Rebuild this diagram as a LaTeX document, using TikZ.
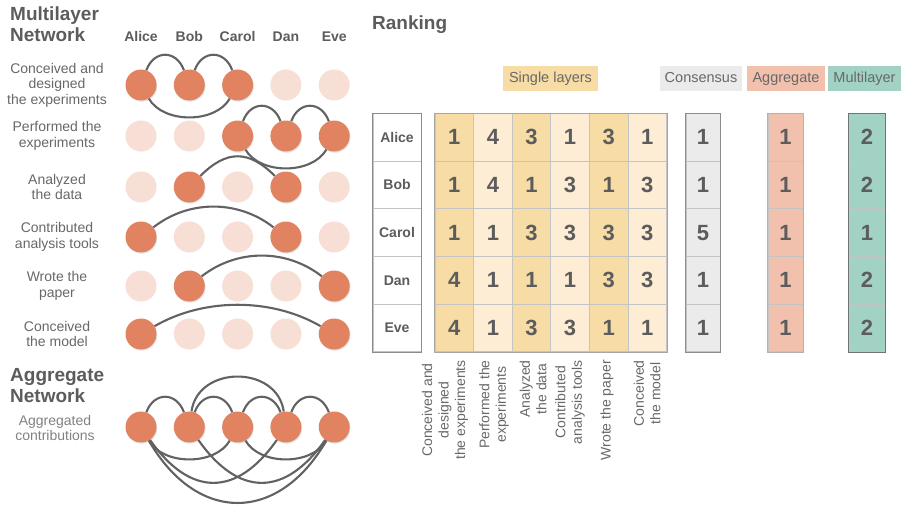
\documentclass[tikz,border=0pt]{standalone}
\usepackage{fontspec}
\setmainfont{Liberation Sans}
\usetikzlibrary{shadows}

\definecolor{actc}{RGB}{225,131,96}
\definecolor{inac}{RGB}{248,223,213}
\definecolor{edgec}{RGB}{98,98,98}
\definecolor{txt}{RGB}{92,92,92}
\definecolor{lbl}{RGB}{104,104,104}
\definecolor{lbllight}{RGB}{130,130,130}
\definecolor{sgl}{RGB}{247,220,166}
\definecolor{sgllight}{RGB}{252,237,212}
\definecolor{cons}{RGB}{235,235,235}
\definecolor{aggc}{RGB}{241,193,174}
\definecolor{mulc}{RGB}{161,210,195}
\definecolor{gridc}{RGB}{196,196,196}

\begin{document}
\begin{tikzpicture}[x=1pt,y=1pt,
  act/.style={circle,fill=actc,minimum size=31pt,inner sep=0pt,
    drop shadow={shadow xshift=0.8pt,shadow yshift=-1.2pt,opacity=0.2}},
  ina/.style={circle,fill=inac,minimum size=31pt,inner sep=0pt},
  edge/.style={draw=edgec,line width=2.1pt},
  heading/.style={anchor=north west,text=txt,inner sep=0pt,align=left,
    font=\fontsize{19}{21}\selectfont\bfseries},
  person/.style={anchor=base,text=txt,inner sep=0pt,
    font=\fontsize{14}{16}\selectfont\bfseries},
  rowlabel/.style={text=lbl,inner sep=0pt,align=center,
    font=\fontsize{14}{15.5}\selectfont},
  collabel/.style={text=lbl,inner sep=0pt,align=center,rotate=90,anchor=east,
    font=\fontsize{14}{16.5}\selectfont},
  legend/.style={text=lbl,inner xsep=0pt,inner ysep=0pt,minimum height=25pt,
    text height=10.5pt,text depth=3pt,
    font=\fontsize{14.5}{16}\selectfont},
  cell/.style={draw=gridc,line width=0.9pt,minimum width=38.6pt,
    minimum height=47.65pt,inner sep=0pt,text=txt,
    font=\fontsize{22}{24}\selectfont\bfseries},
  namecell/.style={draw=gridc,line width=0.9pt,minimum width=48pt,
    minimum height=47.65pt,inner sep=0pt,text=txt,
    font=\fontsize{14}{16}\selectfont\bfseries},
]
\useasboundingbox[fill=white] (0,0) rectangle (901,-509);

% ---------- headings ----------
\node[heading] (mlt) at (10,-7) {Multilayer\\Network};
\node[heading] (agt) at (10,-368) {Aggregate\\Network};
\node[heading] (rkt) at (372,-15.3) {Ranking};

% ---------- people ----------
\foreach \nm [count=\i] in {Alice,Bob,Carol,Dan,Eve}
  \node[person] (p\i) at ({141+48.3*(\i-1)},-41) {\nm};

% ---------- layer labels ----------
\node[rowlabel] (l1) at (57,-85) {Conceived and\\designed\\the experiments};
\node[rowlabel] (l2) at (57,-136) {Performed the\\experiments};
\node[rowlabel] (l3) at (57,-187) {Analyzed\\the data};
\node[rowlabel] (l4) at (57,-237) {Contributed\\analysis tools};
\node[rowlabel] (l5) at (57,-286) {Wrote the\\paper};
\node[rowlabel] (l6) at (57,-334) {Conceived\\the model};
\node[rowlabel,text=lbllight] (l7) at (55,-428) {Aggregated\\contributions};

% ---------- multilayer nodes ----------
\foreach \rw/\yy/\pa/\pb/\pc/\pd/\pe in {
    1/85/1/1/1/0/0, 2/136/0/0/1/1/1, 3/187/0/1/0/1/0,
    4/237/1/0/0/1/0, 5/286/0/1/0/0/1, 6/334/1/0/0/0/1}{
  \foreach \col/\on in {1/\pa,2/\pb,3/\pc,4/\pd,5/\pe}{
    \ifnum\on=1
      \node[act] (n\rw\col) at ({141+48.3*(\col-1)},-\yy) {};
    \else
      \node[ina] (n\rw\col) at ({141+48.3*(\col-1)},-\yy) {};
    \fi
  }
}

% layer 1
\draw[edge] (n11.70) .. controls +(70:22) and +(110:22) .. (n12.110);
\draw[edge] (n12.70) .. controls +(70:22) and +(110:22) .. (n13.110);
\draw[edge] (n11.-60) .. controls +(-60:29) and +(-120:29) .. (n13.-120);
% layer 2
\draw[edge] (n23.70) .. controls +(70:22) and +(110:22) .. (n24.110);
\draw[edge] (n24.70) .. controls +(70:22) and +(110:22) .. (n25.110);
\draw[edge] (n23.-60) .. controls +(-60:29) and +(-120:29) .. (n25.-120);
% layer 3
\draw[edge] (n32.45) .. controls +(45:37) and +(135:37) .. (n34.135);
% layer 4
\draw[edge] (n41.38) .. controls +(38:45) and +(142:45) .. (n44.142);
% layer 5
\draw[edge] (n52.38) .. controls +(38:45) and +(142:45) .. (n55.142);
% layer 6
\draw[edge] (n61.30) .. controls +(30:57) and +(150:57) .. (n65.150);

% ---------- aggregate network ----------
\foreach \col in {1,...,5}
  \node[act] (g\col) at ({141+48.3*(\col-1)},-427) {};

\draw[edge] (g1.70) .. controls +(70:22) and +(110:22) .. (g2.110);
\draw[edge] (g2.70) .. controls +(70:22) and +(110:22) .. (g3.110);
\draw[edge] (g3.70) .. controls +(70:22) and +(110:22) .. (g4.110);
\draw[edge] (g4.70) .. controls +(70:22) and +(110:22) .. (g5.110);
\draw[edge] (g2.82) .. controls +(82:47) and +(98:47) .. (g4.98);
\draw[edge] (g1.-60) .. controls +(-60:29) and +(-120:29) .. (g3.-120);
\draw[edge] (g3.-60) .. controls +(-60:29) and +(-120:29) .. (g5.-120);
\draw[edge] (g1.-55) .. controls +(-55:70) and +(-125:70) .. (g4.-125);
\draw[edge] (g2.-55) .. controls +(-55:70) and +(-125:70) .. (g5.-125);
\draw[edge] (g1.-60) .. controls +(-60:96) and +(-120:96) .. (g5.-120);

% ---------- legend ----------
\node[legend,fill=sgl,minimum width=95pt] (kS) at (550.5,-78.5) {Single layers};
\node[legend,fill=cons,minimum width=82pt] (kC) at (701,-78.5) {Consensus};
\node[legend,fill=aggc,minimum width=78pt] (kA) at (786,-78.5) {Aggregate};
\node[legend,fill=mulc,minimum width=73pt] (kM) at (864.5,-78.5) {Multilayer};

% ---------- ranking table ----------
\foreach \nm/\va/\vb/\vc/\vd/\ve/\vf/\vg/\vh/\vi [count=\rw] in {
    Alice/1/4/3/1/3/1/1/1/2,
    Bob/1/4/1/3/1/3/1/1/2,
    Carol/1/1/3/3/3/3/5/1/1,
    Dan/4/1/1/1/3/3/1/1/2,
    Eve/4/1/3/3/1/1/1/1/2}{
  \pgfmathsetmacro{\yy}{137.3+47.65*(\rw-1)}
  \node[namecell] (r\rw) at (397,-\yy) {\nm};
  \foreach \col/\v in {1/\va,2/\vb,3/\vc,4/\vd,5/\ve,6/\vf}{
    \ifodd\col
      \node[cell,fill=sgl] (m\rw\col) at ({454.3+38.6*(\col-1)},-\yy) {\v};
    \else
      \node[cell,fill=sgllight] (m\rw\col) at ({454.3+38.6*(\col-1)},-\yy) {\v};
    \fi
  }
  \node[cell,fill=cons,minimum width=34pt] (c\rw) at (703,-\yy) {\vg};
  \node[cell,fill=aggc,minimum width=35pt] (a\rw) at (785.5,-\yy) {\vh};
  \node[cell,fill=mulc,minimum width=36pt] (u\rw) at (867,-\yy) {\vi};
}

% outer frames
\draw[line width=1pt,draw=black!45] (r1.north west) rectangle (r5.south east);
\draw[line width=1pt,draw=black!35] (m11.north west) rectangle (m56.south east);
\draw[line width=1pt,draw=black!45] (c1.north west) rectangle (c5.south east);
\draw[line width=1pt,draw=black!30] (a1.north west) rectangle (a5.south east);
\draw[line width=1pt,draw=black!55] (u1.north west) rectangle (u5.south east);

% ---------- column labels ----------
\node[collabel] (k1) at (445,-360) {Conceived and\\designed\\the experiments};
\node[collabel] (k2) at (494,-360) {Performed the\\experiments};
\node[collabel] (k3) at (533,-360) {Analyzed\\the data};
\node[collabel] (k4) at (570,-360) {Contributed\\analysis tools};
\node[collabel] (k5) at (607,-360) {Wrote the paper};
\node[collabel] (k6) at (647,-360) {Conceived\\the model};
\end{tikzpicture}
\end{document}
